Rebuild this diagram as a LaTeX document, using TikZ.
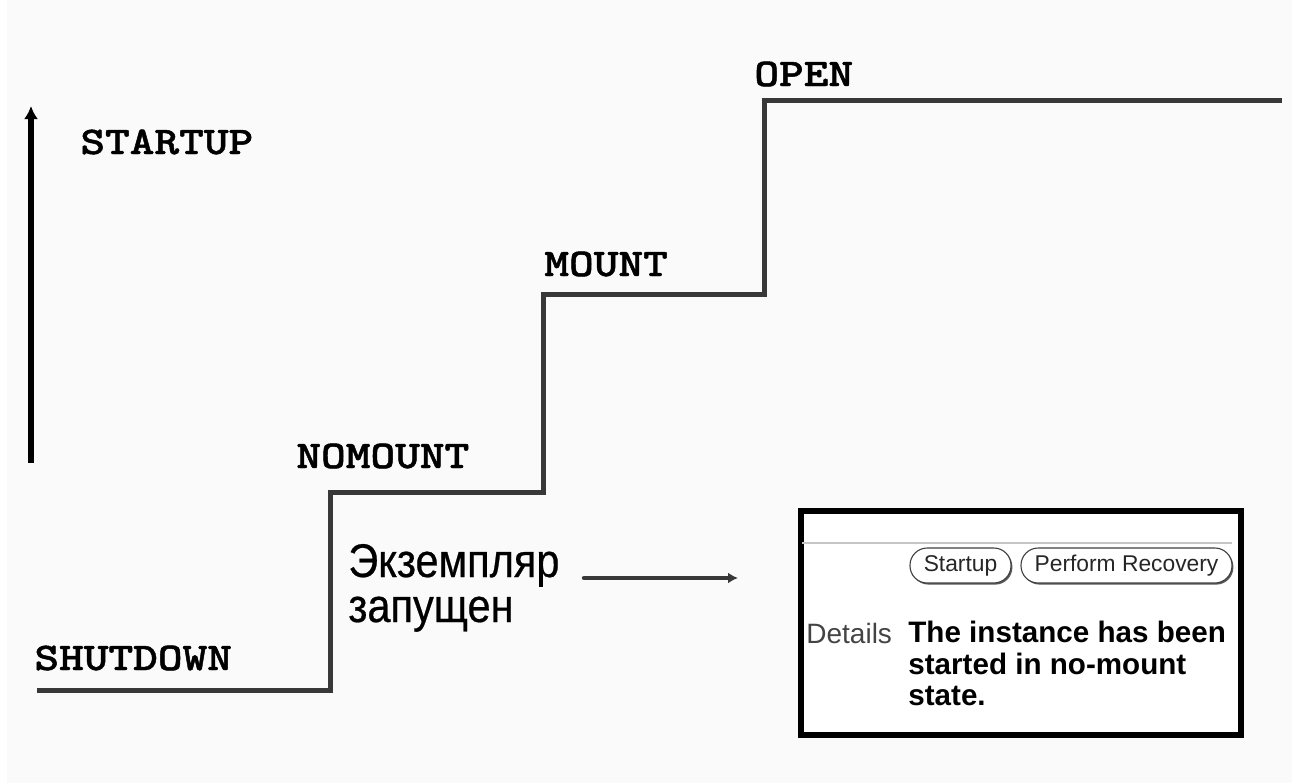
\documentclass[tikz,border=0pt]{standalone}
\usepackage{fontspec}
\setmainfont{Liberation Sans}
\newfontfamily\courfont{lmmonolt10-bold.otf}[FakeStretch=1.2,FakeBold=1.2]
\newfontfamily\rufont{Liberation Sans}[FakeStretch=0.88,FakeBold=0.5]
\usetikzlibrary{arrows.meta,shadows}
\definecolor{bgc}{HTML}{FAFAFA}
\definecolor{stairc}{HTML}{383838}
\definecolor{detc}{HTML}{444444}
\tikzset{
  x=0.5pt,y=-0.5pt,
  statelabel/.style={anchor=base west,inner sep=0pt,font=\courfont\fontsize{19.6pt}{24pt}\selectfont,text=black},
  rulabel/.style={anchor=base west,inner sep=0pt,font=\rufont\fontsize{23.6pt}{26pt}\selectfont,text=black},
  stairline/.style={draw=stairc,line width=2.5pt,line join=miter},
  btn/.style={draw=black!75,line width=0.55pt,fill=white,rounded corners=8.6pt,minimum height=17.5pt,inner sep=0pt,
    font=\fontsize{11.4pt}{13pt}\selectfont,text=black!85,
    drop shadow={shadow xshift=0.7pt,shadow yshift=-0.8pt,fill=black!65,opacity=1}},
  boldline/.style={anchor=base west,inner sep=0pt,font=\bfseries\fontsize{14.8pt}{16pt}\selectfont,text=black},
}
\begin{document}
\begin{tikzpicture}
\useasboundingbox (0,0) rectangle (1292,783);
\fill[white] (0,0) rectangle (1292,783);
\fill[bgc] (7,0) rectangle (1292,783);

% staircase
\coordinate (s0) at (37,690);
\coordinate (s1) at (330,690);
\coordinate (s2) at (330,492);
\coordinate (s3) at (543,492);
\coordinate (s4) at (543,294);
\coordinate (s5) at (764,294);
\coordinate (s6) at (764,100);
\coordinate (s7) at (1282,100);
\draw[stairline] (s0) -- (s1) -- (s2) -- (s3) -- (s4) -- (s5) -- (s6) -- (s7);

% state labels
\node[statelabel] (shutdown) at (34,670) {SHUTDOWN};
\node[statelabel] (nomount) at (296,468) {NOMOUNT};
\node[statelabel] (mount) at (544,276) {MOUNT};
\node[statelabel] (open) at (754,86) {OPEN};
\node[statelabel] (startup) at (80,154) {STARTUP};

% vertical arrow
\coordinate (va0) at (31,463);
\coordinate (va1) at (31,106);
\draw[line width=2.6pt,black,-{Latex[length=6.5pt,width=7pt]}] (va0) -- (va1);

% russian text
\node[rulabel] (ru1) at (348,577) {Экземпляр};
\node[rulabel] (ru2) at (348,622) {запущен};

% horizontal arrow
\coordinate (ha0) at (584,578);
\coordinate (ha1) at (738,578);
\draw[line width=2.2pt,stairc,line cap=round,-{Latex[length=5pt,width=5.5pt]}] (ha0) -- (ha1);

% screenshot box
\node[draw=black,line width=3pt,fill=white,minimum width=220pt,minimum height=112pt,inner sep=0pt] (panel) at (1021,623) {};
\coordinate (gl0) at (802,543);
\coordinate (gl1) at (1232,543);
\draw[gray!45,line width=0.7pt] (gl0) -- (gl1);
\node[btn,minimum width=50.5pt] (bstart) at (960.5,565.5) {Startup};
\node[btn,minimum width=105.5pt] (brec) at (1126.5,565.5) {Perform Recovery};
\node[anchor=base west,inner sep=0pt,font=\fontsize{14pt}{16pt}\selectfont,text=detc] (details) at (806,643) {Details};
\node[boldline] (d1) at (908,642) {The instance has been};
\node[boldline] (d2) at (908,674) {started in no-mount};
\node[boldline] (d3) at (908,705) {state.};
\end{tikzpicture}
\end{document}
